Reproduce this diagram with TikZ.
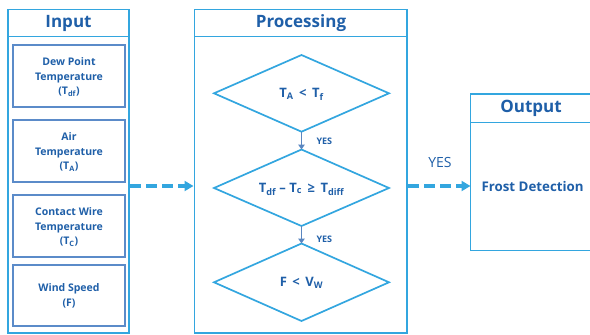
\documentclass[tikz,border=0pt]{standalone}
\usepackage{fontspec}
\setmainfont{Open Sans}
\usetikzlibrary{arrows.meta}
\definecolor{panelblue}{HTML}{33A6DF}
\definecolor{boxblue}{HTML}{5B8BC9}
\definecolor{txtblue}{HTML}{1F5FA8}
\definecolor{arrblue}{HTML}{5A86C0}
\tikzset{
  panel/.style={draw=panelblue, line width=1.9pt},
  inbox/.style={draw=boxblue, line width=1.9pt},
  dia/.style={draw=panelblue, line width=1.7pt},
  head/.style={font=\fontsize{17}{19}\selectfont\bfseries, text=txtblue},
  intext/.style={font=\fontsize{10.5}{14.5}\selectfont\bfseries, text=txtblue, align=center},
  diatext/.style={font=\fontsize{13}{15}\selectfont\bfseries, text=txtblue},
  yeslab/.style={font=\fontsize{9}{11}\selectfont\bfseries, text=txtblue, anchor=west},
  flowarrow/.style={draw=arrblue, line width=1.8pt, -{Triangle[length=5pt,width=6.5pt]}},
  dasharrow/.style={draw=panelblue, line width=3.6pt, dash pattern=on 11pt off 5pt, -{Triangle[length=9pt,width=10pt]}}
}
\begin{document}
\begin{tikzpicture}[x=1pt,y=-1pt]
\useasboundingbox (0,0) rectangle (590,335);
% Input panel
\draw[panel] (8,9.5) rectangle (129,333) coordinate (inBR);
\draw[panel] (8,36.5) -- (129,36.5);
\node[head] (inhead) at (68.5,23) {Input};
\coordinate (inR) at (130,186);
\draw[inbox] (12.7,45) rectangle (125,107);
\node[intext] (b1) at (69,77) {Dew Point\\Temperature\\(T\textsubscript{df})};
\draw[inbox] (12.7,120) rectangle (125,182);
\node[intext] (b2) at (69,152) {Air\\Temperature\\(T\textsubscript{A})};
\draw[inbox] (12.7,195) rectangle (125,257);
\node[intext] (b3) at (69,227) {Contact Wire\\Temperature\\(T\textsubscript{C})};
\draw[inbox] (12.7,265) rectangle (125,326);
\node[intext] (b4) at (69,296) {Wind Speed\\(F)};
% Processing panel
\draw[panel] (194.5,9.5) rectangle (407,333);
\draw[panel] (194.5,36.5) -- (407,36.5);
\node[head] (prhead) at (301,23) {Processing};
\coordinate (prL) at (193.5,186);
\coordinate (prR) at (408,186);
% diamonds
\draw[dia] (214,93.3) -- (301.5,55) -- (389,93.3) -- (301.5,131.7) -- cycle;
\coordinate (d1b) at (301.5,131.7);
\node[diatext] (d1) at (301.5,94) {T\textsubscript{A} \,<\, T\textsubscript{f}};
\draw[dia] (214,188) -- (301.5,149.5) -- (389,188) -- (301.5,226) -- cycle;
\coordinate (d2t) at (301.5,149.5);
\coordinate (d2b) at (301.5,226);
\node[diatext] (d2) at (301.5,189) {T\textsubscript{df} -- T\textsubscript{c} \,≥\, T\textsubscript{diff}};
\draw[dia] (214,282.3) -- (301.5,243.5) -- (389,282.3) -- (301.5,321) -- cycle;
\coordinate (d3t) at (301.5,243.5);
\node[diatext] (d3) at (301.5,283) {F \,<\, V\textsubscript{W}};
\draw[flowarrow] (d1b) -- (d2t);
\node[yeslab] (y1) at (313,141) {YES};
\draw[flowarrow] (d2b) -- (d3t);
\node[yeslab] (y2) at (313,239) {YES};
% Output panel
\draw[panel] (595,94) -- (470.5,94) -- (470.5,250.5) -- (595,250.5);
\draw[panel] (470.5,122.5) -- (595,122.5);
\node[head] (outhead) at (531,108) {Output};
\coordinate (outL) at (470.5,186);
\node[font=\fontsize{13.3}{15}\selectfont\bfseries, text=txtblue, anchor=west] (fd) at (478,187) {Frost Detection};
% dashed arrows
\draw[dasharrow] (inR) -- (prL);
\draw[dasharrow] (prR) -- (outL);
\node[font=\fontsize{14}{16}\selectfont, text=txtblue] (yes3) at (440,162) {YES};
\end{tikzpicture}
\end{document}
